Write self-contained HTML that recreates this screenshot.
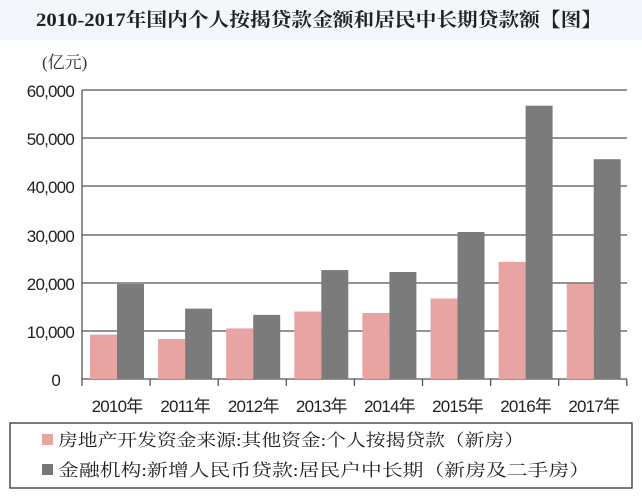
<!DOCTYPE html>
<html><head><meta charset="utf-8"><style>
body{margin:0;background:#fff;}
svg{display:block}
</style></head><body>
<svg width="642" height="497" xmlns="http://www.w3.org/2000/svg">
<rect width="642" height="497" fill="#fff"/>
<rect width="642" height="40" fill="#f3f7fb"/>
<text x="36" y="26" textLength="566" lengthAdjust="spacingAndGlyphs" font-family="'Liberation Serif','Noto Serif CJK SC',serif" font-size="19" font-weight="bold" fill="#222">2010-2017年国内个人按揭贷款金额和居民中长期贷款额【图】</text>
<text x="42" y="68" font-family="'Liberation Serif','Noto Serif CJK SC',serif" font-size="17" fill="#333">(亿元)</text>
<g font-family="'Liberation Sans',sans-serif" font-size="17" fill="#222" text-anchor="end" letter-spacing="-0.8">
<text x="74" y="97">60,000</text>
<text x="74" y="145">50,000</text>
<text x="74" y="193">40,000</text>
<text x="74" y="242">30,000</text>
<text x="74" y="290">20,000</text>
<text x="74" y="338">10,000</text>
<text x="60" y="386">0</text>
</g>
<g stroke="#555" stroke-width="1.3">
<line x1="82" y1="90" x2="627" y2="90"/>
<line x1="82" y1="138" x2="627" y2="138"/>
<line x1="82" y1="186" x2="627" y2="186"/>
<line x1="82" y1="235" x2="627" y2="235"/>
<line x1="82" y1="283" x2="627" y2="283"/>
<line x1="82" y1="331" x2="627" y2="331"/>
<line x1="82" y1="379" x2="627" y2="379"/>
<line x1="82" y1="90" x2="82" y2="386"/>
</g>
<g id="bars"></g>
<g stroke="#555" stroke-width="1.3" id="ticks"></g>
<g id="labels" font-family="'Liberation Sans','Noto Sans CJK SC',sans-serif" font-size="17" fill="#222" text-anchor="middle" letter-spacing="-0.8"></g>
<rect x="10" y="423" width="622" height="65" fill="#fff" stroke="#333" stroke-width="1.3"/>
<rect x="42" y="434" width="11" height="11" fill="#e8a3a3"/>
<rect x="42" y="464" width="11" height="11" fill="#777"/>
<g font-family="'Liberation Serif','Noto Serif CJK SC',serif" font-size="17" fill="#222">
<text x="58" y="446" textLength="466" lengthAdjust="spacingAndGlyphs">房地产开发资金来源:其他资金:个人按揭贷款（新房）</text>
<text x="58" y="476" textLength="532" lengthAdjust="spacingAndGlyphs">金融机构:新增人民币贷款:居民户中长期（新房及二手房）</text>
</g>
<script>
var p=[9200,8300,10500,14000,13700,16700,24300,19800];
var g=[19700,14600,13300,22600,22200,30500,56700,45600];
var b=document.getElementById('bars'),t=document.getElementById('ticks'),l=document.getElementById('labels');
var ns="http://www.w3.org/2000/svg",w=68.1,s=48.2/10000;
function el(par,n,a,tx){var e=document.createElementNS(ns,n);for(var k in a)e.setAttribute(k,a[k]);if(tx)e.textContent=tx;par.appendChild(e);}
for(var i=0;i<8;i++){var x0=82+i*w;
el(b,'rect',{x:x0+8,y:379-p[i]*s,width:27,height:p[i]*s,fill:'#e8a3a3'});
el(b,'rect',{x:x0+35,y:379-g[i]*s,width:27,height:g[i]*s,fill:'#7b7b7b'});
el(t,'line',{x1:x0+w,y1:379,x2:x0+w,y2:386});
el(l,'text',{x:x0+w/2+1,y:412},(2010+i)+'年');}
</script>
</svg>
</body></html>
